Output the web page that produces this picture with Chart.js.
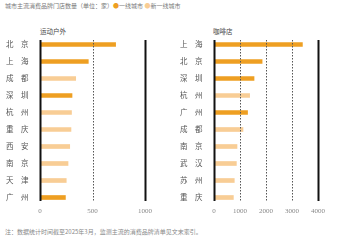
<!DOCTYPE html>
<html>
<head>
<meta charset="utf-8">
<script src="https://cdn.jsdelivr.net/npm/chart.js@4"></script>
<style>
  body { margin: 0; background: #fff; font-family: "Noto Sans CJK SC", sans-serif; }
  #wrap { position: relative; width: 355px; height: 240px; overflow: hidden; }
  canvas { position: absolute; top: 0; }
  .txt { position: absolute; white-space: nowrap; line-height: 1; }
  #title { left: 5px; top: 3px; font-size: 6px; color: #777; }
  .sub { font-size: 6.5px; color: #444; }
  #note { left: 5px; top: 229px; font-size: 6px; color: #888; }
  .dot1 { color: #EE9F22; }
  .dot2 { color: #F8CD95; }
</style>
</head>
<body>
<div id="wrap">
  <div id="title" class="txt">城市主流消费品牌门店数量（单位：家）<span class="dot1">●</span>一线城市 <span class="dot2">●</span>新一线城市</div>
  <div class="txt sub" style="left:40px;top:28px;">运动户外</div>
  <div class="txt sub" style="left:213px;top:28px;">咖啡店</div>
  <canvas id="leftChart" width="178" height="222" style="left:0px"></canvas>
  <canvas id="rightChart" width="177" height="222" style="left:178px"></canvas>
  <div id="note" class="txt">注：数据统计时间截至2025年3月，监测主流的消费品牌清单见文末索引。</div>
</div>
<script>
// 运动户外
const sportCities = ['北京', '上海', '成都', '深圳', '杭州', '重庆', '西安', '南京', '天津', '广州'];
const sportValues = [720, 460, 340, 305, 300, 295, 283, 267, 250, 242];
const sportTier = [1, 1, 2, 1, 2, 2, 2, 2, 2, 1];
const sportTicks = [0, 500, 1000];

// 咖啡店
const coffeeCities = ['上海', '北京', '深圳', '杭州', '广州', '成都', '南京', '武汉', '苏州', '重庆'];
const coffeeValues = [3400, 1850, 1540, 1370, 1290, 1115, 885, 860, 780, 745];
const coffeeTier = [1, 1, 1, 2, 1, 2, 2, 2, 2, 2];
const coffeeTicks = [0, 1000, 2000, 3000, 4000];

const COLOR_T1 = '#EE9F22';
const COLOR_T2 = '#F8CD95';

// vertical reference lines: solid at ends, dotted in between
const refLines = {
    id: 'refLines',
    afterDatasetsDraw(chart, args, opts) {
        const ctx = chart.ctx;
        const x = chart.scales.x;
        const area = chart.chartArea;
        const ticks = opts.ticks;
        ticks.forEach((v, i) => {
            const px = Math.round(x.getPixelForValue(v)) + 0.5;
            const edge = i === 0 || i === ticks.length - 1;
            ctx.save();
            ctx.beginPath();
            ctx.strokeStyle = edge ? '#111' : '#555';
            ctx.lineWidth = edge ? 2 : 1;
            ctx.setLineDash(edge ? [] : [1.5, 1.5]);
            ctx.moveTo(px, area.top + 4);
            ctx.lineTo(px, area.bottom - 5);
            ctx.stroke();
            ctx.restore();
        });
    }
};

function spaced(name) {
    return name.split('').join('\u3000');
}

function makeChart(id, cities, values, tiers, ticks, padLeft, padRight) {
    const max = ticks[ticks.length - 1];
    return new Chart(document.getElementById(id), {
        type: 'bar',
        data: {
            labels: cities.map(spaced),
            datasets: [{
                data: values,
                backgroundColor: tiers.map(t => t === 1 ? COLOR_T1 : COLOR_T2),
                barThickness: 4,
                borderWidth: 0
            }]
        },
        options: {
            indexAxis: 'y',
            responsive: false,
            animation: false,
            layout: { padding: { left: padLeft, right: padRight, top: 36, bottom: 0 } },
            plugins: {
                legend: { display: false },
                tooltip: { enabled: false },
                refLines: { ticks: ticks }
            },
            scales: {
                x: {
                    min: 0,
                    max: max,
                    afterBuildTicks: axis => { axis.ticks = ticks.map(v => ({ value: v })); },
                    afterFit: axis => { axis.height = 16; },
                    grid: { display: false, drawTicks: false },
                    border: { display: false },
                    ticks: {
                        padding: 1,
                        color: '#888',
                        font: { family: 'Liberation Sans Narrow', size: 7 },
                        maxRotation: 0,
                        callback: v => String(v)
                    }
                },
                y: {
                    afterFit: axis => { axis.width = 34; },
                    grid: { display: false, drawTicks: false },
                    border: { display: false },
                    ticks: {
                        crossAlign: 'far',
                        padding: 0,
                        color: '#555',
                        font: { family: 'Noto Sans CJK SC', size: 7.5 }
                    }
                }
            }
        },
        plugins: [refLines]
    });
}

makeChart('leftChart', sportCities, sportValues, sportTier, sportTicks, 6, 33);
makeChart('rightChart', coffeeCities, coffeeValues, coffeeTier, coffeeTicks, 2, 37);
</script>
</body>
</html>
